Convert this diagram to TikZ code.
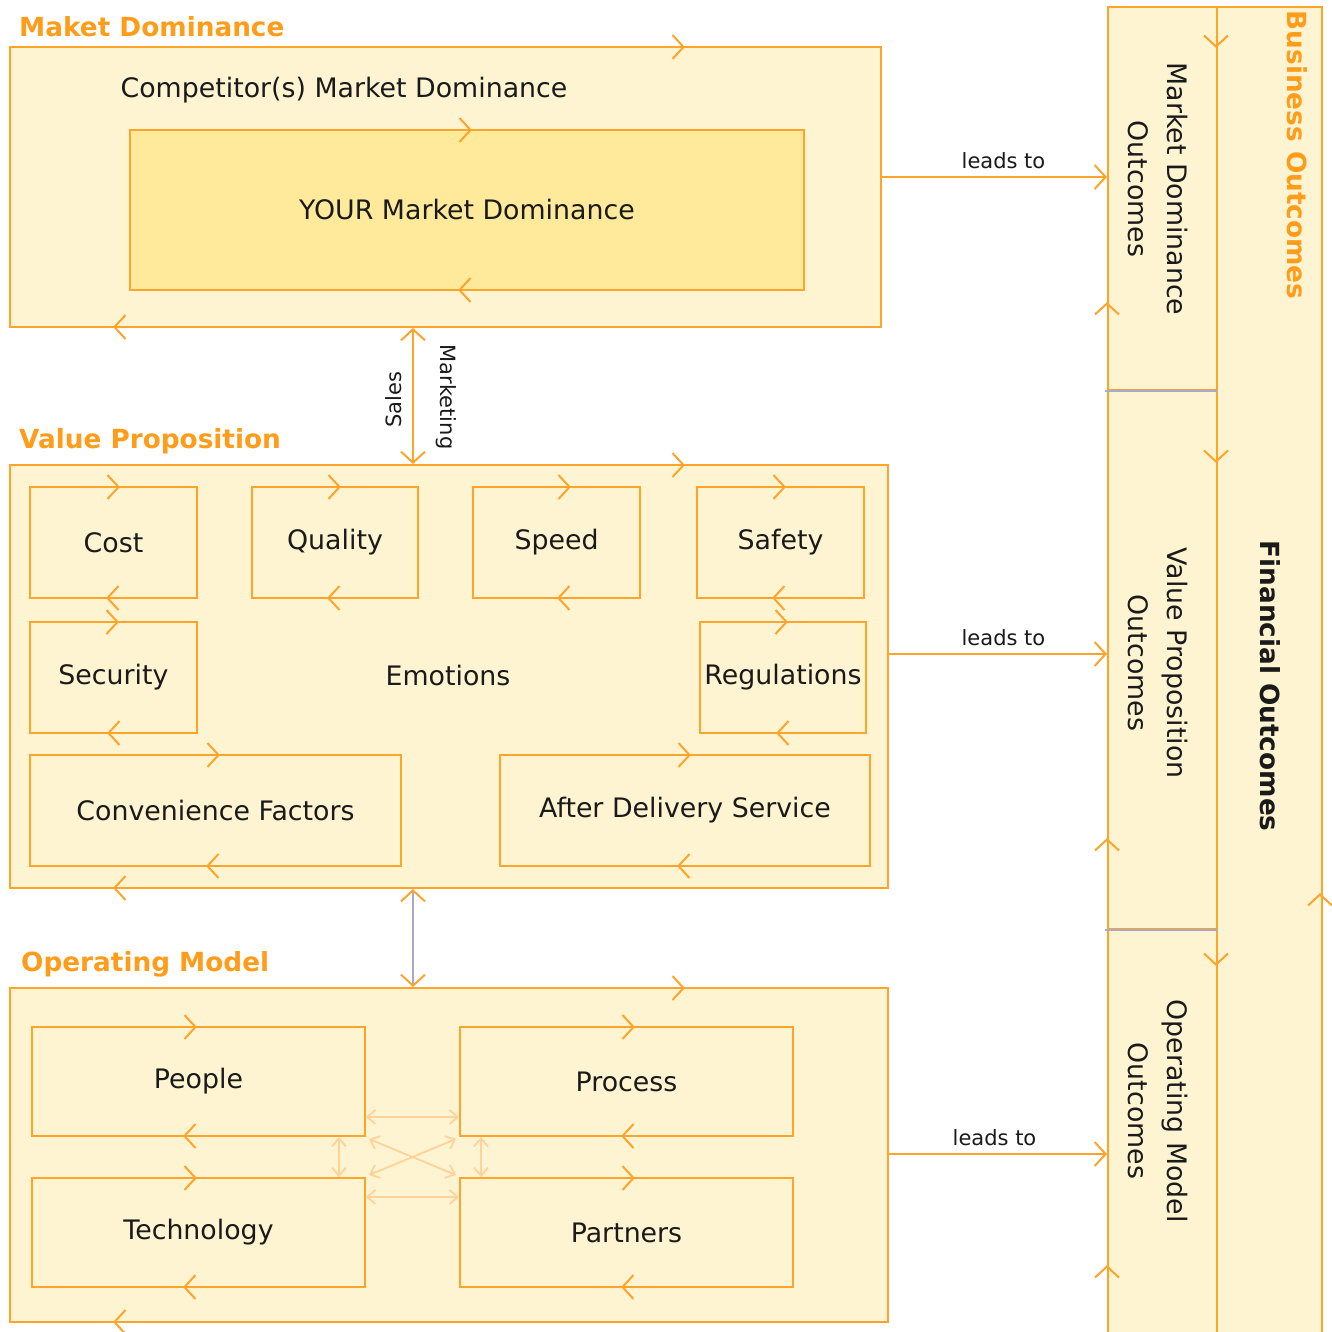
\documentclass[tikz,border=0pt]{standalone}
\usepackage{fontspec}
\setmainfont{DejaVu Sans}
\usetikzlibrary{arrows.meta,calc}
\definecolor{boxfill}{HTML}{FFF4D1}
\definecolor{yourfill}{HTML}{FFE99B}
\definecolor{oline}{HTML}{FFA42B}
\definecolor{otext}{HTML}{FF9C1A}
\definecolor{lightline}{HTML}{FFD29A}
\definecolor{sepline}{HTML}{A9A9CC}
\definecolor{ink}{HTML}{1A1A1A}
\newcommand\chevm[3]{\draw[chevron,shift={(#1,#2)},rotate=#3] (-5.5,-12) -- (5.5,0) -- (-5.5,12);}
\begin{document}
\begin{tikzpicture}[x=1pt,y=-1pt,
  font=\fontsize{26.8}{39}\selectfont,
  box/.style={draw=oline, fill=boxfill, line width=2pt, inner sep=0pt, text=ink},
  yourbox/.style={box, fill=yourfill},
  title/.style={text=otext, font=\bfseries\fontsize{26.3}{31}\selectfont, anchor=west, inner sep=0pt},
  lbl/.style={inner sep=0pt, text=ink},
  small/.style={font=\fontsize{21}{25}\selectfont},
  link/.style={draw=oline, line width=2pt, -{Straight Barb[length=11pt,width=24pt]}},
  dlink/.style={draw=oline, line width=2pt, {Straight Barb[length=11pt,width=24pt]}-{Straight Barb[length=11pt,width=24pt]}},
  glink/.style={draw=sepline, line width=2pt, {Straight Barb[length=11pt,width=24pt,color=oline]}-{Straight Barb[length=11pt,width=24pt,color=oline]}},
  lite/.style={draw=lightline, line width=1.8pt, {Straight Barb[length=8pt,width=14pt]}-{Straight Barb[length=8pt,width=14pt]}},
  chevron/.style={draw=oline, line width=2pt},
  sepl/.style={draw=sepline, line width=2pt}]
\useasboundingbox[fill=white] (0,0) rectangle (1332,1332);

% ---------- Market Dominance ----------
\node[title] (tmd) at (19,27) {Maket Dominance};
\node[box, minimum width=871, minimum height=280] (md) at (445.5,187) {};
\node[lbl] (comp) at (344,90) {Competitor(s) Market Dominance};
\node[yourbox, minimum width=674, minimum height=160] (your) at (467,210) {YOUR Market Dominance};

% ---------- Value Proposition ----------
\node[title] (tvp) at (19,441) {Value Proposition};
\node[box, minimum width=878, minimum height=423] (vp) at (449,676.5) {};
\node[box, minimum width=167, minimum height=111] (cost) at (113.5,542.5) {Cost};
\node[box, minimum width=166, minimum height=111] (quality) at (335,542.5) {Quality};
\node[box, minimum width=167, minimum height=111] (speed) at (556.5,542.5) {Speed};
\node[box, minimum width=167, minimum height=111] (safety) at (780.5,542.5) {Safety};
\node[box, minimum width=167, minimum height=111] (security) at (113.5,677.5) {Security};
\node[box, minimum width=166, minimum height=111] (regul) at (783,677.5) {Regulations};
\node[lbl] (emo) at (448,676) {Emotions};
\node[box, minimum width=371, minimum height=111] (conv) at (215.5,810.5) {Convenience Factors};
\node[box, minimum width=370, minimum height=111] (after) at (685,810.5) {After Delivery Service};

% ---------- Operating Model ----------
\node[title] (tom) at (21,964) {Operating Model};
\node[box, minimum width=878, minimum height=334] (om) at (449,1155) {};
\node[box, minimum width=333, minimum height=109] (people) at (198.5,1081.5) {People};
\node[box, minimum width=333, minimum height=109] (process) at (626.5,1081.5) {Process};
\node[box, minimum width=333, minimum height=109] (tech) at (198.5,1232.5) {Technology};
\node[box, minimum width=333, minimum height=109] (partners) at (626.5,1232.5) {Partners};

% ---------- Outcomes column ----------
\node[box, anchor=north west, minimum width=109, minimum height=383] (mdo) at (1107,6) {};
\node[box, anchor=north west, minimum width=109, minimum height=539] (vpo) at (1107,389) {};
\node[box, anchor=north west, minimum width=109, minimum height=420] (omo) at (1107,928) {};
\node[box, anchor=north west, minimum width=105, minimum height=1342] (fin) at (1216,6) {};
\draw[sepl] ([xshift=-2pt]mdo.south west) -- (mdo.south east);
\draw[sepl] ([xshift=-2pt]vpo.south west) -- (vpo.south east);
\node[lbl, rotate=-90, align=center] (mdot) at (1158,189) {Market Dominance\\Outcomes};
\node[lbl, rotate=-90, align=center] (vpot) at (1158,663) {Value Proposition\\Outcomes};
\node[lbl, rotate=-90, align=center] (omot) at (1158,1111) {Operating Model\\Outcomes};
\node[title, anchor=center, rotate=-90] (tbo) at (1297,155) {Business Outcomes};
\node[lbl, rotate=-90, font=\bfseries\fontsize{26.3}{31}\selectfont] (fino) at (1270,686) {Financial Outcomes};

% ---------- connectors ----------
\coordinate (xs) at (413,0);
\draw[dlink] (md.south -| xs) -- (vp.north -| xs);
\node[lbl, small, rotate=90] (sales) at (394,400) {Sales};
\node[lbl, small, rotate=-90] (mkt) at (446,397) {Marketing};
\draw[glink] (vp.south -| xs) -- (om.north -| xs);

\coordinate (y1) at (0,177);
\coordinate (y2) at (0,654);
\coordinate (y3) at (0,1154);
\draw[link] (md.east |- y1) -- (mdo.west |- y1) node[pos=0.54, above=7pt, lbl, small] (l1) {leads to};
\draw[link] (vp.east |- y2) -- (vpo.west |- y2) node[pos=0.525, above=7pt, lbl, small] (l2) {leads to};
\draw[link] (om.east |- y3) -- (omo.west |- y3) node[pos=0.484, above=7pt, lbl, small] (l3) {leads to};

\draw[lite] ([yshift=20pt]people.south east) -- ([yshift=20pt]process.south west);
\draw[lite] ([yshift=-20pt]tech.north east) -- ([yshift=-20pt]partners.north west);
\draw[lite] ([xshift=-27pt]people.south east) -- ([xshift=-27pt]tech.north east);
\draw[lite] ([xshift=22pt]process.south west) -- ([xshift=22pt]partners.north west);
\draw[lite] ([shift={(3pt,-2pt)}]people.south east) -- ([shift={(-3pt,2pt)}]partners.north west);
\draw[lite] ([shift={(-3pt,-2pt)}]process.south west) -- ([shift={(3pt,2pt)}]tech.north east);

% ---------- flow chevrons ----------
\chevm{678}{47}{0}   \chevm{120}{327}{180}
\chevm{465}{130}{0}  \chevm{465}{290}{180}
\chevm{678}{465}{0}  \chevm{120}{888}{180}
\chevm{113}{487}{0}  \chevm{113}{598}{180}
\chevm{334}{487}{0}  \chevm{334}{598}{180}
\chevm{564}{487}{0}  \chevm{564}{598}{180}
\chevm{779}{487}{0}  \chevm{779}{598}{180}
\chevm{112}{622}{0}  \chevm{114}{733}{180}
\chevm{781}{622}{0}  \chevm{783}{733}{180}
\chevm{213}{755}{0}  \chevm{213}{866}{180}
\chevm{684}{755}{0}  \chevm{684}{866}{180}
\chevm{678}{988}{0}  \chevm{120}{1322}{180}
\chevm{190}{1027}{0} \chevm{190}{1136}{180}
\chevm{628}{1027}{0} \chevm{628}{1136}{180}
\chevm{190}{1178}{0} \chevm{190}{1287}{180}
\chevm{628}{1178}{0} \chevm{628}{1287}{180}
\chevm{1216}{41}{-90}  \chevm{1216}{456}{-90} \chevm{1216}{959}{-90}
\chevm{1107}{309}{90}  \chevm{1107}{845}{90}  \chevm{1107}{1272}{90}
\chevm{1320}{900}{90}
\end{tikzpicture}
\end{document}
